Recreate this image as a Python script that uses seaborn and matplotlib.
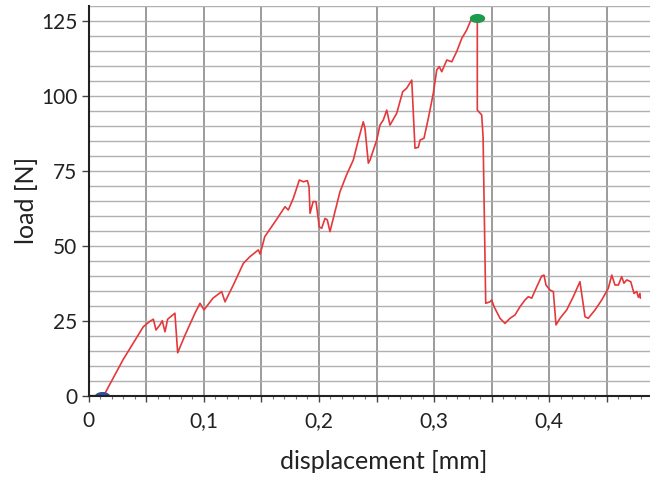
import numpy as np
import pandas as pd
import matplotlib
matplotlib.use("Agg")
import matplotlib.pyplot as plt
from matplotlib.path import Path
from matplotlib.ticker import MultipleLocator, FuncFormatter
import seaborn as sns

# Load-displacement record of the test
displacement = [
    0.0, 0.0115, 0.0143, 0.0300, 0.0476, 0.0530, 0.0563, 0.0586, 0.0620, 0.0640,
    0.0664, 0.0687, 0.0750, 0.0774, 0.0838, 0.0924, 0.0968, 0.1003, 0.1080, 0.1156,
    0.1185, 0.1257, 0.1344, 0.1400, 0.1474, 0.1490, 0.1530, 0.1560, 0.1630, 0.1706,
    0.1734, 0.1778, 0.1830, 0.1865, 0.1900, 0.1914, 0.1923, 0.1950, 0.1975, 0.2003,
    0.2024, 0.2053, 0.2073, 0.2096, 0.2183, 0.2240, 0.2299, 0.2342, 0.2385, 0.2400,
    0.2429, 0.2444, 0.2502, 0.2530, 0.2559, 0.2589, 0.2617, 0.2675, 0.2727, 0.2762,
    0.2806, 0.2834, 0.2863, 0.2878, 0.2912, 0.2950, 0.2993, 0.3023, 0.3045, 0.3066,
    0.3110, 0.3153, 0.3196, 0.3240, 0.3283, 0.3326, 0.3375, 0.3375, 0.3413, 0.3425,
    0.3448, 0.3485, 0.3500, 0.3520, 0.3572, 0.3615, 0.3659, 0.3702, 0.3746, 0.3789,
    0.3818, 0.3847, 0.3891, 0.3934, 0.3954, 0.3971, 0.4006, 0.4035, 0.4058, 0.4093,
    0.4151, 0.4208, 0.4266, 0.4310, 0.4338, 0.4397, 0.4455, 0.4512, 0.4542, 0.4570,
    0.4600, 0.4628, 0.4648, 0.4672, 0.4707, 0.4735, 0.4759, 0.4773, 0.4787, 0.4790,
]
load = [
    0.0, 0.0, 0.8, 12.0, 23.0, 24.7, 25.5, 21.9, 23.6, 25.0,
    21.3, 25.5, 27.5, 14.3, 20.2, 27.5, 30.8, 28.6, 32.5, 34.7,
    31.3, 36.9, 44.1, 46.3, 48.6, 47.2, 53.0, 54.7, 58.6, 63.0,
    61.9, 65.8, 71.9, 71.3, 71.7, 69.7, 60.8, 64.7, 64.7, 56.3,
    55.8, 59.1, 58.6, 54.7, 68.0, 73.6, 78.6, 85.2, 91.3, 89.1,
    77.5, 78.6, 85.2, 90.2, 91.9, 95.2, 90.2, 94.1, 101.3, 102.5,
    105.2, 82.5, 82.8, 85.2, 85.8, 92.5, 100.8, 108.6, 109.7, 108.0,
    111.9, 111.3, 114.7, 119.1, 121.9, 125.8, 125.8, 95.2, 93.6, 86.3,
    30.8, 31.3, 31.9, 29.7, 25.8, 24.1, 25.8, 26.9, 29.7, 31.9,
    33.0, 32.5, 36.3, 39.9, 40.2, 36.9, 35.2, 34.7, 23.6, 25.8,
    28.6, 33.0, 38.0, 26.3, 25.8, 28.6, 31.9, 35.8, 40.2, 36.9,
    36.9, 39.7, 37.5, 38.6, 38.0, 34.1, 34.7, 32.8, 34.1, 32.5,
]

# Start and peak markers
start_point = (0.0115, 0.0)
peak_point = (0.3375, 125.8)

df = pd.DataFrame({"displacement": displacement, "load": load})

sns.set_theme(style="white")
plt.rcParams["font.family"] = ["Lato", "DejaVu Sans"]

fig = plt.figure(figsize=(6.5, 4.78), dpi=100)
ax = fig.add_axes([88.5 / 650, (478 - 395.7) / 478, (650 - 88.5) / 650, 390.0 / 478])

sns.lineplot(data=df, x="displacement", y="load", ax=ax, color="#e5383b",
             linewidth=1.2, sort=False, estimator=None, zorder=3)

# flattened ellipse marker
t = np.linspace(0, 2 * np.pi, 60)
ellipse = Path(np.column_stack([np.cos(t), 0.55 * np.sin(t)]), closed=True)
ax.plot([start_point[0]], [start_point[1]], linestyle="none", marker=ellipse,
        markersize=10, color="#2e4f9e", zorder=4)
ax.plot([peak_point[0]], [peak_point[1]], linestyle="none", marker=ellipse,
        markersize=10, color="#1e9a4c", zorder=4)

ax.set_xlim(0, 0.4874)
ax.set_ylim(0, 130)

ax.xaxis.set_major_locator(MultipleLocator(0.05))
ax.xaxis.set_minor_locator(MultipleLocator(0.01))

def xfmt(v, pos):
    k = int(round(v / 0.05))
    if k % 2:
        return ""
    if k == 0:
        return "0"
    return f"{v:.1f}".replace(".", ",")

ax.xaxis.set_major_formatter(FuncFormatter(xfmt))
ax.yaxis.set_major_locator(MultipleLocator(25))
ax.yaxis.set_minor_locator(MultipleLocator(5))

ax.grid(True, axis="x", which="major", color="#8a8a8a", linewidth=1.2)
ax.grid(True, axis="y", which="both", color="#b0b0b0", linewidth=1.0)
ax.set_axisbelow(True)

for side in ("top", "right"):
    ax.spines[side].set_visible(False)
for side in ("left", "bottom"):
    ax.spines[side].set_color("#222222")
    ax.spines[side].set_linewidth(1.5)
    ax.spines[side].set_zorder(5)

ax.tick_params(axis="y", which="major", direction="out", length=5, width=1.0,
               color="#444444", labelsize=15, labelcolor="#222222", pad=3, left=True)
ax.tick_params(axis="y", which="minor", left=False)
ax.tick_params(axis="x", which="major", direction="out", length=4, width=1.0,
               color="#444444", labelsize=15, labelcolor="#222222", pad=7, bottom=True)
ax.tick_params(axis="x", which="minor", direction="out", length=2, width=0.8,
               color="#777777", bottom=True)

ax.set_xlabel("displacement [mm]", fontsize=18, color="#222222")
ax.set_ylabel("load [N]", fontsize=18, color="#222222")
ax.xaxis.set_label_coords(0.525, -0.138)
ax.yaxis.set_label_coords(-0.09, 0.5)
ax.xaxis.label.set_va("top")

fig.savefig("out.png", dpi=100)
